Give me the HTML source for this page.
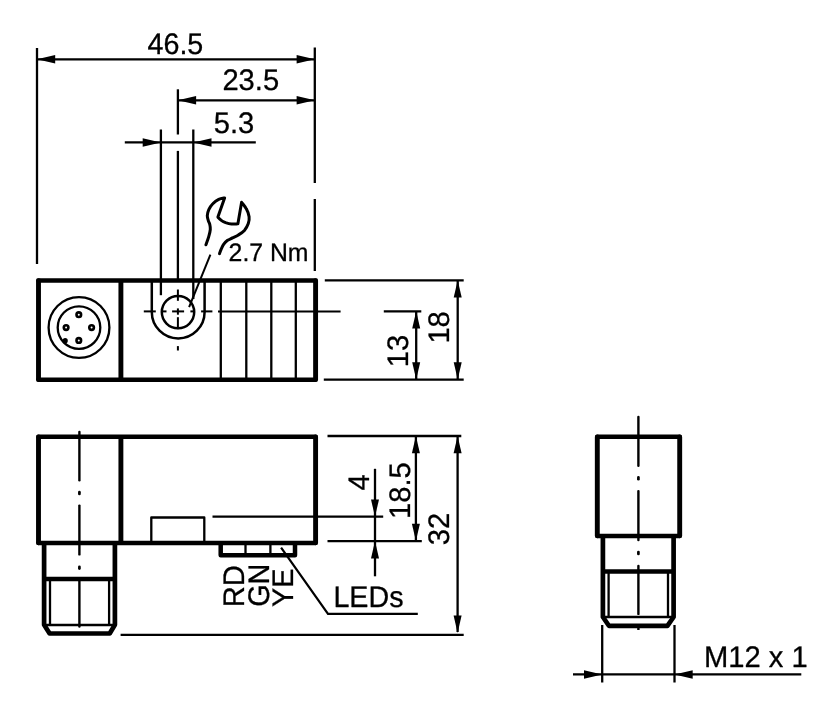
<!DOCTYPE html>
<html lang="en">
<head>
<meta charset="utf-8">
<title>Dimensions</title>
<style>
html,body{margin:0;padding:0;background:#fff;}
body{width:827px;height:709px;overflow:hidden;}
svg{display:block;will-change:transform;}
svg text{font-family:"Liberation Sans",Arial,Helvetica,sans-serif;text-rendering:geometricPrecision;}
</style>
</head>
<body>
<svg width="827" height="709" viewBox="0 0 827 709" fill="none" stroke="#000" stroke-linecap="butt" stroke-linejoin="round">
<rect x="0" y="0" width="827" height="709" fill="#fff" stroke="none"/>
<line x1="37.0" y1="48" x2="37.0" y2="264" stroke-width="2.3" />
<line x1="314.8" y1="47.5" x2="314.8" y2="183" stroke-width="2.3" />
<line x1="314.8" y1="199" x2="314.8" y2="271" stroke-width="2.3" />
<line x1="37.0" y1="59.3" x2="314.8" y2="59.3" stroke-width="2.3" />
<polygon points="37.0,59.3 55.2,55.05 55.2,63.55" fill="#000" stroke="none"/>
<polygon points="314.8,59.3 296.6,55.05 296.6,63.55" fill="#000" stroke="none"/>
<text transform="translate(147.5 54.0) scale(0.966 1)" font-size="29.7" fill="#000" stroke="#000" stroke-width="0.3">46.5</text>
<line x1="177.9" y1="89.3" x2="177.9" y2="134.5" stroke-width="2.3" />
<line x1="177.9" y1="150.9" x2="177.9" y2="280" stroke-width="2.3" />
<line x1="177.9" y1="100.3" x2="314.8" y2="100.3" stroke-width="2.3" />
<polygon points="177.9,100.3 196.1,96.05 196.1,104.55" fill="#000" stroke="none"/>
<polygon points="314.8,100.3 296.6,96.05 296.6,104.55" fill="#000" stroke="none"/>
<text transform="translate(222.4 89.8) scale(0.982 1)" font-size="29.7" fill="#000" stroke="#000" stroke-width="0.3">23.5</text>
<line x1="160.9" y1="129.5" x2="160.9" y2="295.2" stroke-width="2.3" />
<line x1="193.3" y1="129.5" x2="193.3" y2="299" stroke-width="2.3" />
<line x1="124.8" y1="142.4" x2="255.8" y2="142.4" stroke-width="2.3" />
<polygon points="160.9,142.4 142.70000000000002,138.15 142.70000000000002,146.65" fill="#000" stroke="none"/>
<polygon points="193.3,142.4 211.5,138.15 211.5,146.65" fill="#000" stroke="none"/>
<text transform="translate(213.8 132.5) scale(0.982 1)" font-size="29.7" fill="#000" stroke="#000" stroke-width="0.3">5.3</text>
<path d="M205.9 244.8 C206.4 243.4 208.1 238.9 208.8 236.4 C209.6 233.8 210.1 231.5 210.3 229.5 C210.5 227.5 210.1 226.0 209.8 224.6 C209.5 223.1 208.7 222.1 208.3 220.6 C207.9 219.1 207.3 217.5 207.3 215.7 C207.4 213.9 207.9 211.7 208.8 209.7 C209.7 207.8 211.1 205.5 212.8 203.8 C214.4 202.1 216.7 200.4 218.7 199.4 C220.7 198.4 223.6 198.1 224.6 197.9 L217.9 217.1 C218.4 217.6 219.6 219.2 220.9 220.1 C222.1 221.0 223.8 221.9 225.6 222.6 C227.4 223.2 229.5 223.8 231.5 224.0 C233.6 224.2 236.9 223.8 237.9 223.8 L241.6 202.3 C242.4 203.4 245.1 206.4 246.3 208.8 C247.6 211.1 248.8 214.2 249.1 216.7 C249.4 219.1 249.1 221.3 248.3 223.6 C247.5 225.9 246.0 228.6 244.4 230.5 C242.7 232.4 240.4 233.7 238.4 234.9 C236.5 236.2 234.3 237.0 232.5 237.9 C230.7 238.8 229.1 239.3 227.6 240.3 C226.1 241.4 224.7 242.8 223.6 244.3 C222.6 245.8 221.9 247.7 221.2 249.2 C220.5 250.8 219.8 252.9 219.5 253.7" stroke-width="3.0" stroke-linecap="round" stroke-linejoin="round"/>
<line x1="210.4" y1="254.6" x2="189.1" y2="307.2" stroke-width="2.0" />
<text transform="translate(228.6 261.0) scale(0.98 1)" font-size="25.3" fill="#000" stroke="#000" stroke-width="0.3">2.7 Nm</text>
<line x1="38.4" y1="280.5" x2="315.6" y2="280.5" stroke-width="4.5" stroke-linecap="round"/>
<line x1="38.4" y1="379.7" x2="315.6" y2="379.7" stroke-width="4.5" stroke-linecap="round"/>
<line x1="38.5" y1="280.7" x2="38.5" y2="379.5" stroke-width="4.9" stroke-linecap="round"/>
<line x1="120.9" y1="280.7" x2="120.9" y2="379.5" stroke-width="4.9" stroke-linecap="butt"/>
<line x1="315.6" y1="280.7" x2="315.6" y2="379.5" stroke-width="4.9" stroke-linecap="round"/>
<line x1="220.8" y1="280.5" x2="220.8" y2="379.7" stroke-width="2.3" />
<line x1="246.3" y1="280.5" x2="246.3" y2="379.7" stroke-width="2.3" />
<line x1="271.3" y1="280.5" x2="271.3" y2="379.7" stroke-width="2.3" />
<line x1="295.8" y1="280.5" x2="295.8" y2="379.7" stroke-width="2.3" />
<path d="M151.8 280.4 L151.8 312 A26.4 26.4 0 0 0 204.6 312 L204.6 280.4" stroke-width="2.5" />
<circle cx="178" cy="312.1" r="16.2" stroke-width="2.5" />
<circle cx="79" cy="327.5" r="30.4" stroke-width="2.3" />
<circle cx="79" cy="327.6" r="21.3" stroke-width="2.3" />
<circle cx="78.8" cy="314.7" r="2.3" stroke-width="2.6" />
<circle cx="66.1" cy="327.6" r="2.3" stroke-width="2.6" />
<circle cx="91.6" cy="327.6" r="2.3" stroke-width="2.6" />
<circle cx="78.8" cy="340.4" r="2.3" stroke-width="2.6" />
<circle cx="65.2" cy="340.7" r="2.6" fill="#000" stroke="none"/>
<line x1="143.8" y1="311.4" x2="155.8" y2="311.4" stroke-width="2.0" />
<line x1="162.1" y1="311.4" x2="166.5" y2="311.4" stroke-width="2.0" />
<line x1="172.1" y1="311.4" x2="184.1" y2="311.4" stroke-width="2.0" />
<line x1="190.4" y1="311.4" x2="193.5" y2="311.4" stroke-width="2.0" />
<line x1="201.1" y1="311.4" x2="212.4" y2="311.4" stroke-width="2.0" />
<line x1="218" y1="311.4" x2="340.6" y2="311.4" stroke-width="2.0" />
<line x1="177.9" y1="289.5" x2="177.9" y2="300.8" stroke-width="2.0" />
<line x1="177.9" y1="308.4" x2="177.9" y2="314.7" stroke-width="2.0" />
<line x1="177.9" y1="317.2" x2="177.9" y2="329.1" stroke-width="2.0" />
<line x1="177.9" y1="346.1" x2="177.9" y2="350.5" stroke-width="2.0" />
<line x1="324.8" y1="280.3" x2="463.7" y2="280.3" stroke-width="2.3" />
<line x1="323.8" y1="379.6" x2="463.7" y2="379.6" stroke-width="2.3" />
<line x1="383.8" y1="311.3" x2="421.3" y2="311.3" stroke-width="2.3" />
<line x1="457.7" y1="280.3" x2="457.7" y2="379.6" stroke-width="2.3" />
<polygon points="457.7,280.3 453.7,297.6 461.7,297.6" fill="#000" stroke="none"/>
<polygon points="457.7,379.6 453.7,362.3 461.7,362.3" fill="#000" stroke="none"/>
<line x1="416.2" y1="311.3" x2="416.2" y2="379.6" stroke-width="2.3" />
<polygon points="416.2,311.3 412.2,328.6 420.2,328.6" fill="#000" stroke="none"/>
<polygon points="416.2,379.6 412.2,362.3 420.2,362.3" fill="#000" stroke="none"/>
<text transform="translate(407.6 367.2) rotate(-90) scale(0.982 1)" font-size="29.7" fill="#000" stroke="#000" stroke-width="0.3">13</text>
<text transform="translate(448.5 343.6) rotate(-90) scale(0.982 1)" font-size="29.7" fill="#000" stroke="#000" stroke-width="0.3">18</text>
<line x1="38.4" y1="436.7" x2="315.6" y2="436.7" stroke-width="4.5" stroke-linecap="round"/>
<line x1="38.4" y1="542.9" x2="315.6" y2="542.9" stroke-width="4.5" stroke-linecap="round"/>
<line x1="38.5" y1="436.9" x2="38.5" y2="542.6999999999999" stroke-width="4.9" stroke-linecap="round"/>
<line x1="120.9" y1="436.9" x2="120.9" y2="542.6999999999999" stroke-width="4.9" stroke-linecap="butt"/>
<line x1="315.6" y1="436.9" x2="315.6" y2="542.6999999999999" stroke-width="4.9" stroke-linecap="round"/>
<path d="M44.1 542.9 L44.1 624.7 L49.6 633.5 L109.7 633.5 L114.9 624.7 L114.9 542.9" stroke-width="4.7" />
<line x1="44.1" y1="579" x2="114.9" y2="579" stroke-width="4.5" />
<line x1="50" y1="579" x2="50" y2="625" stroke-width="2.3" />
<line x1="109.1" y1="579" x2="109.1" y2="625" stroke-width="2.3" />
<line x1="44.1" y1="625" x2="114.9" y2="625" stroke-width="2.3" />
<line x1="79.4" y1="431.90000000000003" x2="79.4" y2="480.2" stroke-width="2.4" stroke-linecap="round"/>
<line x1="79.4" y1="505.6" x2="79.4" y2="554.4" stroke-width="2.4" stroke-linecap="round"/>
<line x1="79.4" y1="581.6" x2="79.4" y2="626.6" stroke-width="2.4" stroke-linecap="round"/>
<line x1="79.4" y1="492.20000000000005" x2="79.4" y2="494.0" stroke-width="2.6999999999999997" stroke-linecap="round"/>
<line x1="79.4" y1="566.8000000000001" x2="79.4" y2="568.6" stroke-width="2.6999999999999997" stroke-linecap="round"/>
<path d="M151.3 542.8 L151.3 517.5 L204.3 517.5 L204.3 542.8" stroke-width="2.3" />
<line x1="212.5" y1="516.7" x2="383.2" y2="516.7" stroke-width="2.3" />
<path d="M220.7 542.9 L220.7 555.2 L295 555.2 L295 542.9" stroke-width="4.5" />
<line x1="245.5" y1="542.8" x2="245.5" y2="555.2" stroke-width="2.3" />
<line x1="270.4" y1="542.8" x2="270.4" y2="555.2" stroke-width="2.3" />
<path d="M281.1 547.7 L328 613.8 L417.8 613.8" stroke-width="2.2" stroke-linejoin="miter"/>
<text transform="translate(244.0 607.3) rotate(-90) scale(0.982 1)" font-size="29.7" fill="#000" stroke="#000" stroke-width="0.3">RD</text>
<text transform="translate(269.0 606.8) rotate(-90) scale(0.97 1)" font-size="29.7" fill="#000" stroke="#000" stroke-width="0.3">GN</text>
<text transform="translate(293.4 607) rotate(-90) scale(0.97 1)" font-size="29.7" fill="#000" stroke="#000" stroke-width="0.3">YE</text>
<text transform="translate(333.4 607.0) scale(0.966 1)" font-size="29.7" fill="#000" stroke="#000" stroke-width="0.3">LEDs</text>
<line x1="327.5" y1="436" x2="461.3" y2="436" stroke-width="2.3" />
<line x1="327.5" y1="541.1" x2="421.8" y2="541.1" stroke-width="2.3" />
<line x1="120.6" y1="634.8" x2="463.7" y2="634.8" stroke-width="2.3" />
<line x1="375" y1="468.8" x2="375" y2="576.3" stroke-width="2.3" />
<polygon points="375,516.7 371.0,499.40000000000003 379.0,499.40000000000003" fill="#000" stroke="none"/>
<polygon points="375,541.1 371.0,558.4 379.0,558.4" fill="#000" stroke="none"/>
<line x1="415.9" y1="436" x2="415.9" y2="541.1" stroke-width="2.3" />
<polygon points="415.9,436 411.9,453.3 419.9,453.3" fill="#000" stroke="none"/>
<polygon points="415.9,541.1 411.9,523.8000000000001 419.9,523.8000000000001" fill="#000" stroke="none"/>
<line x1="457.6" y1="436" x2="457.6" y2="632" stroke-width="2.3" />
<polygon points="457.6,436 453.6,453.3 461.6,453.3" fill="#000" stroke="none"/>
<polygon points="457.6,632.9 453.6,615.6 461.6,615.6" fill="#000" stroke="none"/>
<text transform="translate(369.3 490.5) rotate(-90) scale(0.982 1)" font-size="29.7" fill="#000" stroke="#000" stroke-width="0.3">4</text>
<text transform="translate(410.0 519.0) rotate(-90) scale(0.982 1)" font-size="29.7" fill="#000" stroke="#000" stroke-width="0.3">18.5</text>
<text transform="translate(448.7 545.3) rotate(-90) scale(0.982 1)" font-size="29.7" fill="#000" stroke="#000" stroke-width="0.3">32</text>
<line x1="597.3" y1="436.7" x2="679.7" y2="436.7" stroke-width="4.5" stroke-linecap="round"/>
<line x1="597.3" y1="536" x2="679.7" y2="536" stroke-width="4.5" stroke-linecap="round"/>
<line x1="597.3" y1="436.9" x2="597.3" y2="535.8" stroke-width="4.9" stroke-linecap="round"/>
<line x1="679.7" y1="436.9" x2="679.7" y2="535.8" stroke-width="4.9" stroke-linecap="round"/>
<path d="M602.9 536 L602.9 617 L608.9 625.8 L667.4 625.8 L673.6 617 L673.6 536" stroke-width="4.7" />
<line x1="602.9" y1="571.4" x2="673.6" y2="571.4" stroke-width="4.5" />
<line x1="608.6" y1="571.4" x2="608.6" y2="617" stroke-width="2.3" />
<line x1="668" y1="571.4" x2="668" y2="617" stroke-width="2.3" />
<line x1="602.9" y1="617" x2="673.6" y2="617" stroke-width="2.3" />
<line x1="638.4" y1="416.90000000000003" x2="638.4" y2="465.7" stroke-width="2.4" stroke-linecap="round"/>
<line x1="638.4" y1="491.1" x2="638.4" y2="540.0" stroke-width="2.4" stroke-linecap="round"/>
<line x1="638.4" y1="565.9" x2="638.4" y2="613.9" stroke-width="2.4" stroke-linecap="round"/>
<line x1="638.4" y1="477.40000000000003" x2="638.4" y2="479.2" stroke-width="2.6999999999999997" stroke-linecap="round"/>
<line x1="638.4" y1="552.1" x2="638.4" y2="553.9" stroke-width="2.6999999999999997" stroke-linecap="round"/>
<line x1="638.4" y1="626" x2="638.4" y2="630" stroke-width="2.4" />
<line x1="602.2" y1="625" x2="602.2" y2="682.5" stroke-width="2.3" />
<line x1="674.5" y1="625" x2="674.5" y2="682.5" stroke-width="2.3" />
<line x1="573" y1="674.4" x2="801.3" y2="674.4" stroke-width="2.3" />
<polygon points="602.2,674.4 584.0,670.15 584.0,678.65" fill="#000" stroke="none"/>
<polygon points="674.5,674.4 692.7,670.15 692.7,678.65" fill="#000" stroke="none"/>
<text transform="translate(704.0 666.8) scale(0.982 1)" font-size="29.7" fill="#000" stroke="#000" stroke-width="0.3">M12 x 1</text>
</svg>
</body>
</html>
